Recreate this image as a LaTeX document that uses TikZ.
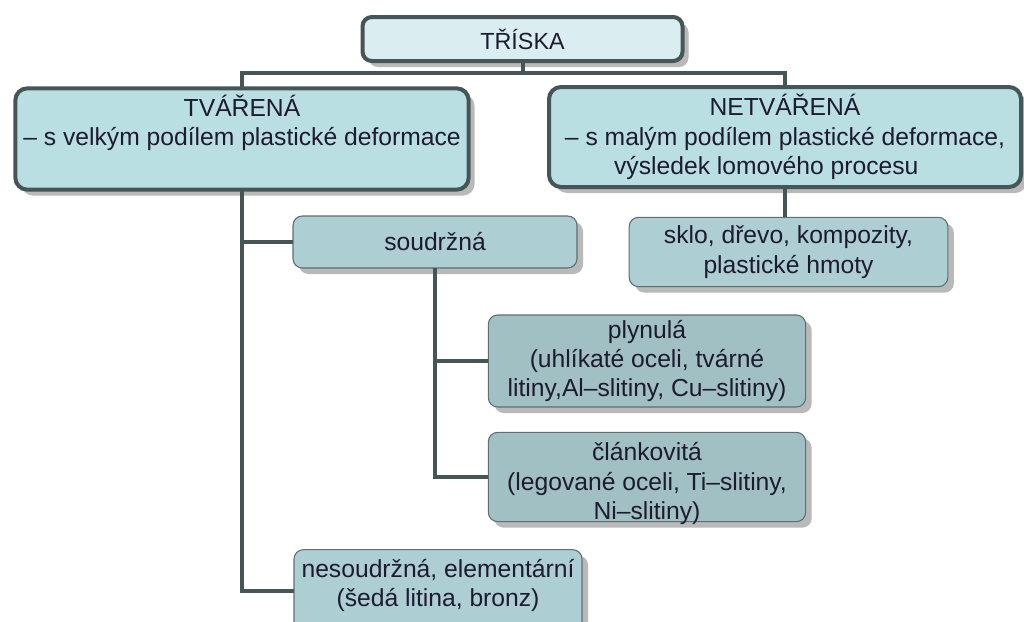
\documentclass[tikz,border=0pt]{standalone}
\usepackage{fontspec}
\setmainfont{Liberation Sans}
\usepackage{tikz}
\usetikzlibrary{positioning,shadows}
\definecolor{trInk}{RGB}{30,26,48}
\definecolor{trEdge}{RGB}{70,85,85}
\definecolor{trThin}{RGB}{95,110,110}
\definecolor{trTop}{RGB}{218,238,241}
\definecolor{trMainFill}{RGB}{185,223,227}
\definecolor{trSubFill}{RGB}{173,207,211}
\definecolor{trLeafFill}{RGB}{161,192,195}
\definecolor{trShade}{RGB}{185,185,185}
\newcommand{\trfont}{\fontsize{18.5pt}{22pt}\selectfont}
\tikzset{
  trBox/.style={rectangle, align=center, text=trInk, font=\trfont,
    inner sep=0pt, outer sep=0pt,
    drop shadow={shadow xshift=4.5pt, shadow yshift=-4.5pt, fill=trShade, opacity=1}},
  trHead/.style={trBox, draw=trEdge, line width=3pt, rounded corners=7pt, fill=trTop,
    font=\fontsize{17.5pt}{21pt}\selectfont},
  trMain/.style={trBox, draw=trEdge, line width=3pt, rounded corners=9pt, fill=trMainFill},
  trSub/.style={trBox, draw=trThin, line width=.8pt, rounded corners=7pt, fill=trSubFill},
  trLeaf/.style={trSub, fill=trLeafFill},
  trLink/.style={draw=trEdge, line width=3pt}
}
\begin{document}
\begin{tikzpicture}[x=0.75pt,y=-0.75pt]
\useasboundingbox (0,0) rectangle (1024,621);
% top level
\node[trHead,minimum width=240pt,minimum height=33pt] (triska) at (522.5,39) {TŘÍSKA};
\node[trMain,minimum width=340pt,minimum height=76pt] (tvarena) at (242,139)
  {TVÁŘENÁ\\– s velkým podílem plastické deformace\\\strut};
\node[trMain,minimum width=354pt,minimum height=75pt] (netvarena) at (785,137)
  {NETVÁŘENÁ\\– s malým podílem plastické deformace,\\výsledek lomového procesu\hspace*{28pt}};
% second level
\node[trSub,minimum width=213pt,minimum height=39pt] (soudrzna) at (435,242) {soudržná};
\node[trSub,minimum width=239pt,minimum height=52pt] (sklo) at (788.5,252)
  {sklo, dřevo, kompozity,\\plastické hmoty};
\node[trSub,minimum width=216pt,minimum height=62pt] (nesoudrzna) at (438,591)
  {nesoudržná, elementární\\(šedá litina, bronz)\\[-10pt]\mbox{}};
% third level
\node[trLeaf,minimum width=238pt,minimum height=69pt] (plynula) at (647,361)
  {plynulá\\(uhlíkaté oceli, tvárné\\litiny,Al–slitiny, Cu–slitiny)};
\node[trLeaf,minimum width=238pt,minimum height=67pt] (clankovita) at (647,477)
  {článkovitá\\(legované oceli, Ti–slitiny,\\Ni–slitiny)\\[-28pt]\mbox{}};
% connectors
\coordinate (bus) at (522.5,73);
\draw[trLink] (triska.south) -- (bus);
\draw[trLink] (tvarena.north) |- (bus) -| (netvarena.north);
\draw[trLink] (netvarena.south) -- (netvarena.south |- sklo.north);
\draw[trLink] (tvarena.south) |- (nesoudrzna.west);
\draw[trLink] (tvarena.south |- soudrzna.west) -- (soudrzna.west);
\draw[trLink] (soudrzna.south) |- (clankovita.west);
\draw[trLink] (soudrzna.south |- plynula.west) -- (plynula.west);
\end{tikzpicture}
\end{document}
